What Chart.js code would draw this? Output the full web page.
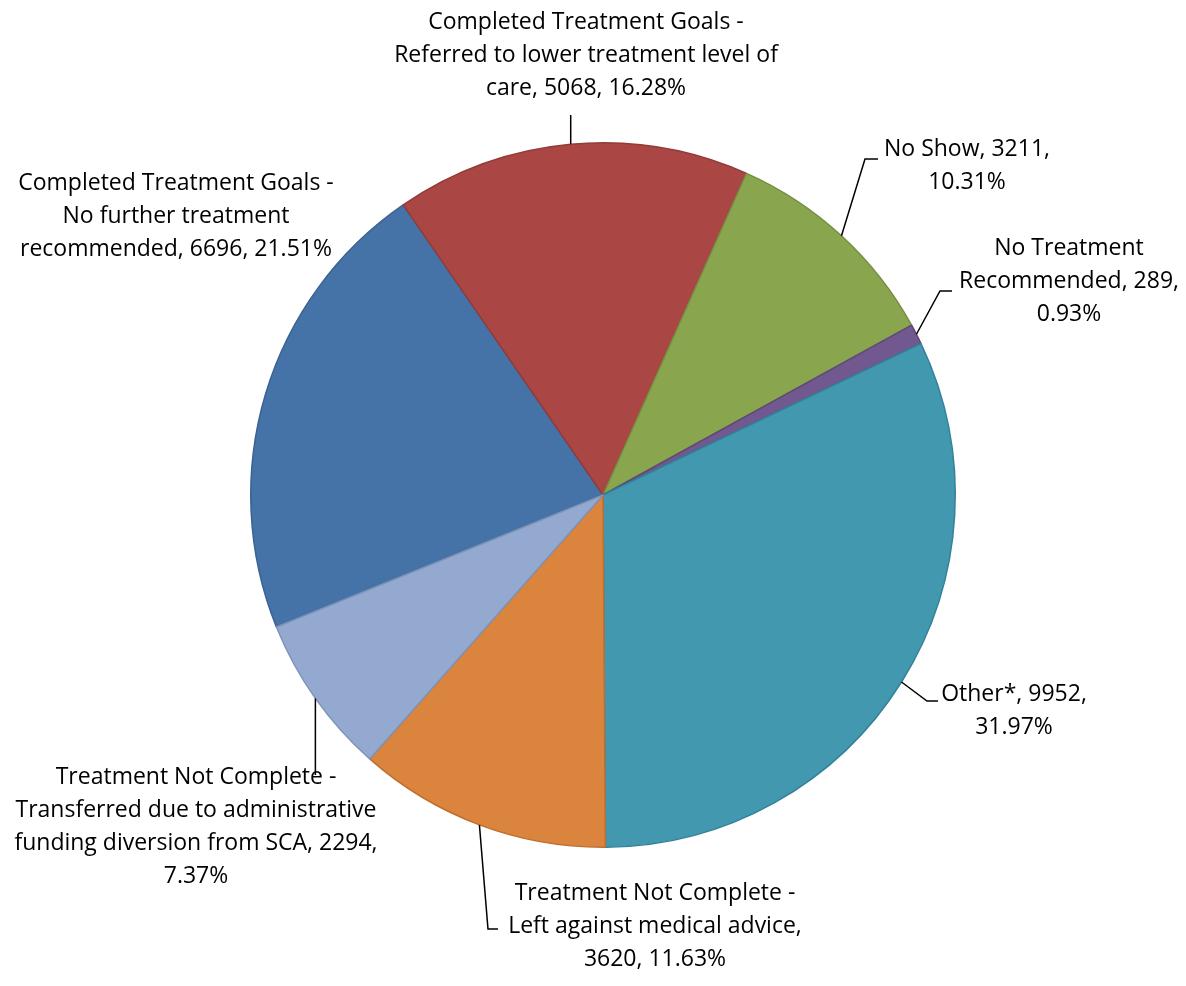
<!DOCTYPE html>
<html>
<head>
<meta charset="utf-8">
<script src="https://cdn.jsdelivr.net/npm/chart.js@4.4.1/dist/chart.umd.min.js"></script>
<style>
  html, body { margin: 0; padding: 0; background: #fff; }
  canvas { display: block; }
</style>
</head>
<body>
<canvas id="pieChart" width="1186" height="986"></canvas>
<script>
// Discharge reasons
const categories = [
  'Completed Treatment Goals - No further treatment recommended',
  'Completed Treatment Goals - Referred to lower treatment level of care',
  'No Show',
  'No Treatment Recommended',
  'Other*',
  'Treatment Not Complete - Left against medical advice',
  'Treatment Not Complete - Transferred due to administrative funding diversion from SCA'
];
const counts = [6696, 5068, 3211, 289, 9952, 3620, 2294];

const fillColors   = ['#4572A7', '#AA4643', '#89A54E', '#71588F', '#4198AF', '#DB843D', '#93A9CF'];
const borderColors = ['#3A6394', '#923B38', '#768F42', '#5E4978', '#34819A', '#BE6F30', '#7D93B8'];

const total = counts.reduce((a, b) => a + b, 0);
const percents = counts.map(v => (v / total * 100).toFixed(2));

// where each data label sits: text centre x, first line y, wrap width, leader path
const labelLayout = [
  { cx: 176,  y: 183, wrap: 322, leader: null },
  { cx: 586,  y: 22,  wrap: 402, leader: { to: [null, 115], stub: 0 } },
  { cx: 967,  y: 149, wrap: 178, leader: { to: [865, 159], stub: 13 } },
  { cx: 1069, y: 248, wrap: 232, leader: { to: [940, 291], stub: 12 } },
  { cx: 1014, y: 694, wrap: 150, leader: { to: [927, 701], stub: 11 } },
  { cx: 655,  y: 893, wrap: 305, leader: { to: [488, 929], stub: 10 } },
  { cx: 196,  y: 777, wrap: 378, leader: { to: [null, 775], stub: 0 } }
];
const LINE_H = 33;
const LABEL_FONT = '23px "Open Sans"';

function wrapText(ctx, text, maxW) {
  const words = text.split(' ');
  const lines = [];
  let cur = '';
  words.forEach(w => {
    const test = cur ? cur + ' ' + w : w;
    if (cur && ctx.measureText(test).width > maxW) {
      lines.push(cur);
      cur = w;
    } else {
      cur = test;
    }
  });
  if (cur) lines.push(cur);
  return lines;
}

const outsideLabels = {
  id: 'outsideLabels',
  afterDatasetsDraw(chart) {
    const ctx = chart.ctx;
    const arcs = chart.getDatasetMeta(0).data;
    ctx.save();
    ctx.font = LABEL_FONT;
    ctx.fillStyle = '#000';
    ctx.strokeStyle = '#000';
    ctx.lineWidth = 1.5;
    arcs.forEach((arc, i) => {
      const lay = labelLayout[i];
      const { x, y, startAngle, endAngle, outerRadius } = arc.getProps(['x', 'y', 'startAngle', 'endAngle', 'outerRadius'], true);
      const mid = (startAngle + endAngle) / 2;
      const ax = x + Math.cos(mid) * outerRadius;
      const ay = y + Math.sin(mid) * outerRadius;
      if (lay.leader) {
        const ex = lay.leader.to[0] === null ? ax : lay.leader.to[0];
        const ey = lay.leader.to[1];
        ctx.beginPath();
        ctx.moveTo(ax, ay);
        ctx.lineTo(ex, ey);
        if (lay.leader.stub) ctx.lineTo(ex + lay.leader.stub, ey);
        ctx.stroke();
      }
      const text = categories[i] + ', ' + counts[i] + ', ' + percents[i] + '%';
      const lines = wrapText(ctx, text, lay.wrap);
      ctx.textAlign = 'center';
      ctx.textBaseline = 'middle';
      lines.forEach((ln, k) => ctx.fillText(ln, lay.cx, lay.y + k * LINE_H));
    });
    ctx.restore();
  }
};

new Chart(document.getElementById('pieChart'), {
  type: 'pie',
  data: {
    labels: categories,
    datasets: [{
      data: counts,
      backgroundColor: fillColors,
      borderColor: borderColors,
      borderWidth: 1.5
    }]
  },
  options: {
    responsive: false,
    animation: false,
    rotation: 248,
    layout: { padding: { left: 250, right: 230, top: 142, bottom: 138 } },
    plugins: { legend: { display: false }, tooltip: { enabled: false } }
  },
  plugins: [outsideLabels]
});
</script>
</body>
</html>
